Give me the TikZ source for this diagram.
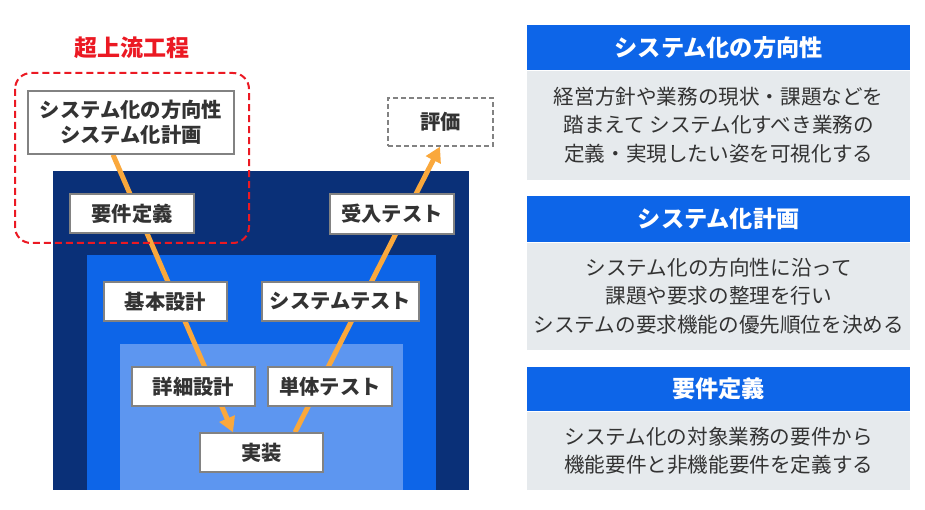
\documentclass[tikz,border=0pt]{standalone}
\usepackage{fontspec}
\setmainfont{Noto Sans CJK JP}
\usetikzlibrary{arrows.meta,calc}
\pgfdeclarelayer{bg}
\pgfdeclarelayer{mid}
\pgfsetlayers{bg,mid,main}
\definecolor{navy}{RGB}{10,48,120}
\definecolor{midblue}{RGB}{13,101,232}
\definecolor{lightblue}{RGB}{93,150,240}
\definecolor{panelgray}{RGB}{230,234,237}
\definecolor{orangeline}{RGB}{250,168,60}
\definecolor{boxgray}{RGB}{130,130,130}
\definecolor{textgray}{RGB}{51,51,51}
\definecolor{redc}{RGB}{235,25,35}
\begin{document}
\begin{tikzpicture}[x=1pt,y=-1pt,
  box/.style={draw=boxgray, line width=1.3pt, fill=white, text=textgray,
    font=\fontsize{20.3}{25}\selectfont\bfseries, align=center, inner sep=0pt},
  flow/.style={draw=orangeline, line width=5pt, -{Triangle[length=15pt,width=16pt]}},
  head/.style={fill=midblue, text=white, font=\fontsize{23.2}{26}\selectfont\bfseries,
    minimum width=383pt, inner sep=0pt, align=center},
  body/.style={fill=panelgray, text=textgray, font=\fontsize{20.6}{28.5}\selectfont,
    minimum width=383pt, inner sep=0pt, align=center}]
\useasboundingbox (0,0) rectangle (925,510);
\begin{pgfonlayer}{bg}
  \fill[navy] (53,171) rectangle (469,490);
  \fill[midblue] (87,255) rectangle (436,490);
  \fill[lightblue] (120,344) rectangle (403,490);
\end{pgfonlayer}
% red upstream region
\draw[redc, line width=2pt, dash pattern=on 7pt off 4pt, rounded corners=16pt] (15,73) rectangle (249,243);
\node[text=redc, font=\fontsize{23}{23}\selectfont\bfseries] (upstream) at (132,48) {超上流工程};
% boxes
\node[box, minimum width=206pt, minimum height=63pt] (sys) at (131,122.5) {システム化の方向性\\システム化計画};
\node[box, minimum width=124pt, minimum height=39pt] (yoken) at (132,213.5) {要件定義};
\node[box, minimum width=124pt, minimum height=40pt] (ukeire) at (392,214) {受入テスト};
\node[box, dashed, dash pattern=on 5pt off 3pt, minimum width=105pt, minimum height=48pt] (hyoka) at (440.5,122) {評価};
\node[box, minimum width=123pt, minimum height=39pt] (kihon) at (165.5,301.5) {基本設計};
\node[box, minimum width=157pt, minimum height=39pt] (systest) at (340.5,301.5) {システムテスト};
\node[box, minimum width=123pt, minimum height=39pt] (shosai) at (193.5,386.5) {詳細設計};
\node[box, minimum width=124pt, minimum height=39pt] (tantai) at (330,386.5) {単体テスト};
\node[box, minimum width=123pt, minimum height=39pt] (jisso) at (261.5,452.5) {実装};
% flow lines
\begin{pgfonlayer}{mid}
  \draw[flow] ($(sys.south)+(-18,0)$) -- ($(jisso.north)+(-28.5,0)$);
  \draw[flow] ($(jisso.north)+(33.5,0)$) -- ($(hyoka.south)+(-0.5,0)$);
\end{pgfonlayer}
% panels
\node[head, minimum height=45pt, anchor=north west] (h1) at (527,25) {システム化の方向性};
\node[body, minimum height=109pt, anchor=north] (b1) at (h1.south) {経営方針や業務の現状・課題などを\\踏まえて システム化すべき業務の\\定義・実現したい姿を可視化する};
\node[head, minimum height=46pt, anchor=north west] (h2) at (527,196) {システム化計画};
\node[body, minimum height=107pt, anchor=north] (b2) at (h2.south) {システム化の方向性に沿って\\課題や要求の整理を行い\\システムの要求機能の優先順位を決める};
\node[head, minimum height=44pt, anchor=north west] (h3) at (527,367) {要件定義};
\node[body, minimum height=78pt, anchor=north] (b3) at (h3.south) {システム化の対象業務の要件から\\機能要件と非機能要件を定義する};
\end{tikzpicture}
\end{document}
